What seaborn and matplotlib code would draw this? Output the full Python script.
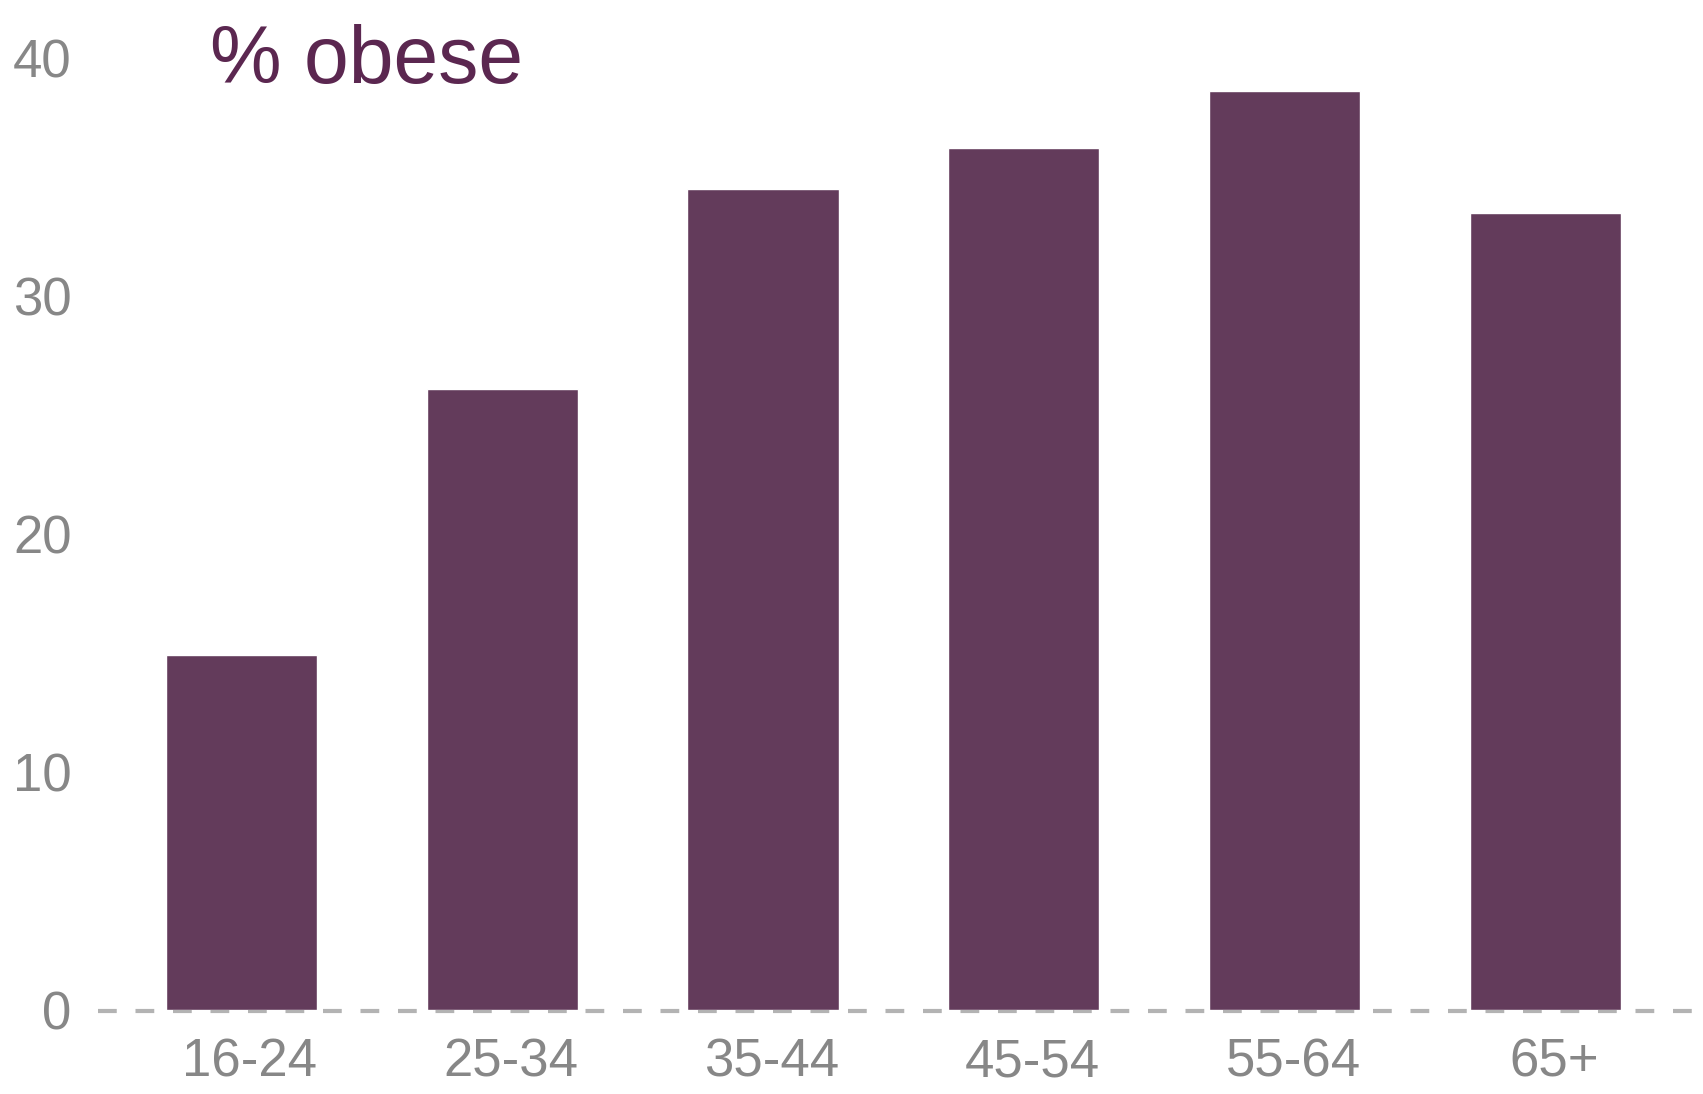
import matplotlib
matplotlib.use("Agg")
import matplotlib.pyplot as plt
import matplotlib.transforms as mtransforms
import seaborn as sns
import pandas as pd

# Share of adults classed as obese, by age band
age_groups = ["16-24", "25-34", "35-44", "45-54", "55-64", "65+"]
pct_obese = [14.9, 26.1, 34.5, 36.2, 38.6, 33.5]
y_ticks = [0, 10, 20, 30, 40]

bar_color = "#633b5b"
title_color = "#5b2750"
label_color = "#878787"
zero_color = "#b3b3b3"

sns.set_style("white")
plt.rcParams["font.family"] = ["Liberation Sans", "DejaVu Sans"]

df = pd.DataFrame({"age": age_groups, "pct": pct_obese})

fig = plt.figure(figsize=(17.03, 10.94), dpi=100)
ax = fig.add_axes([98 / 1703, 84 / 1094, 1 - 98 / 1703, 976 / 1094])

sns.barplot(data=df, x="age", y="pct", color=bar_color, saturation=1,
            width=0.58, ax=ax, zorder=2)

ax.set_xlim(-0.55, 5.604)
ax.set_ylim(0, 41)
ax.set_yticks(y_ticks)
ax.set_yticklabels([str(t) for t in y_ticks])

# dashed zero line running across the full width, tucked under the bars
ax.axhline(-0.05, color=zero_color, lw=3, ls=(0, (4.5, 4.5)), zorder=1,
           clip_on=False)

for s in ax.spines.values():
    s.set_visible(False)
ax.tick_params(axis="both", length=0, labelsize=38, colors=label_color)
ax.tick_params(axis="y", pad=19)
ax.tick_params(axis="x", pad=20)
ax.set_xlabel("")
ax.set_ylabel("")
ax.grid(False)

# nudge the category labels slightly to the right
shift = mtransforms.ScaledTranslation(8.5 / 100, 0, fig.dpi_scale_trans)
for lbl in ax.get_xticklabels():
    lbl.set_transform(lbl.get_transform() + shift)

fig.text(210 / 1703, 1 - 83 / 1094, "% obese", color=title_color,
         fontsize=58, va="baseline", ha="left")

fig.savefig("out.png", dpi=100)
